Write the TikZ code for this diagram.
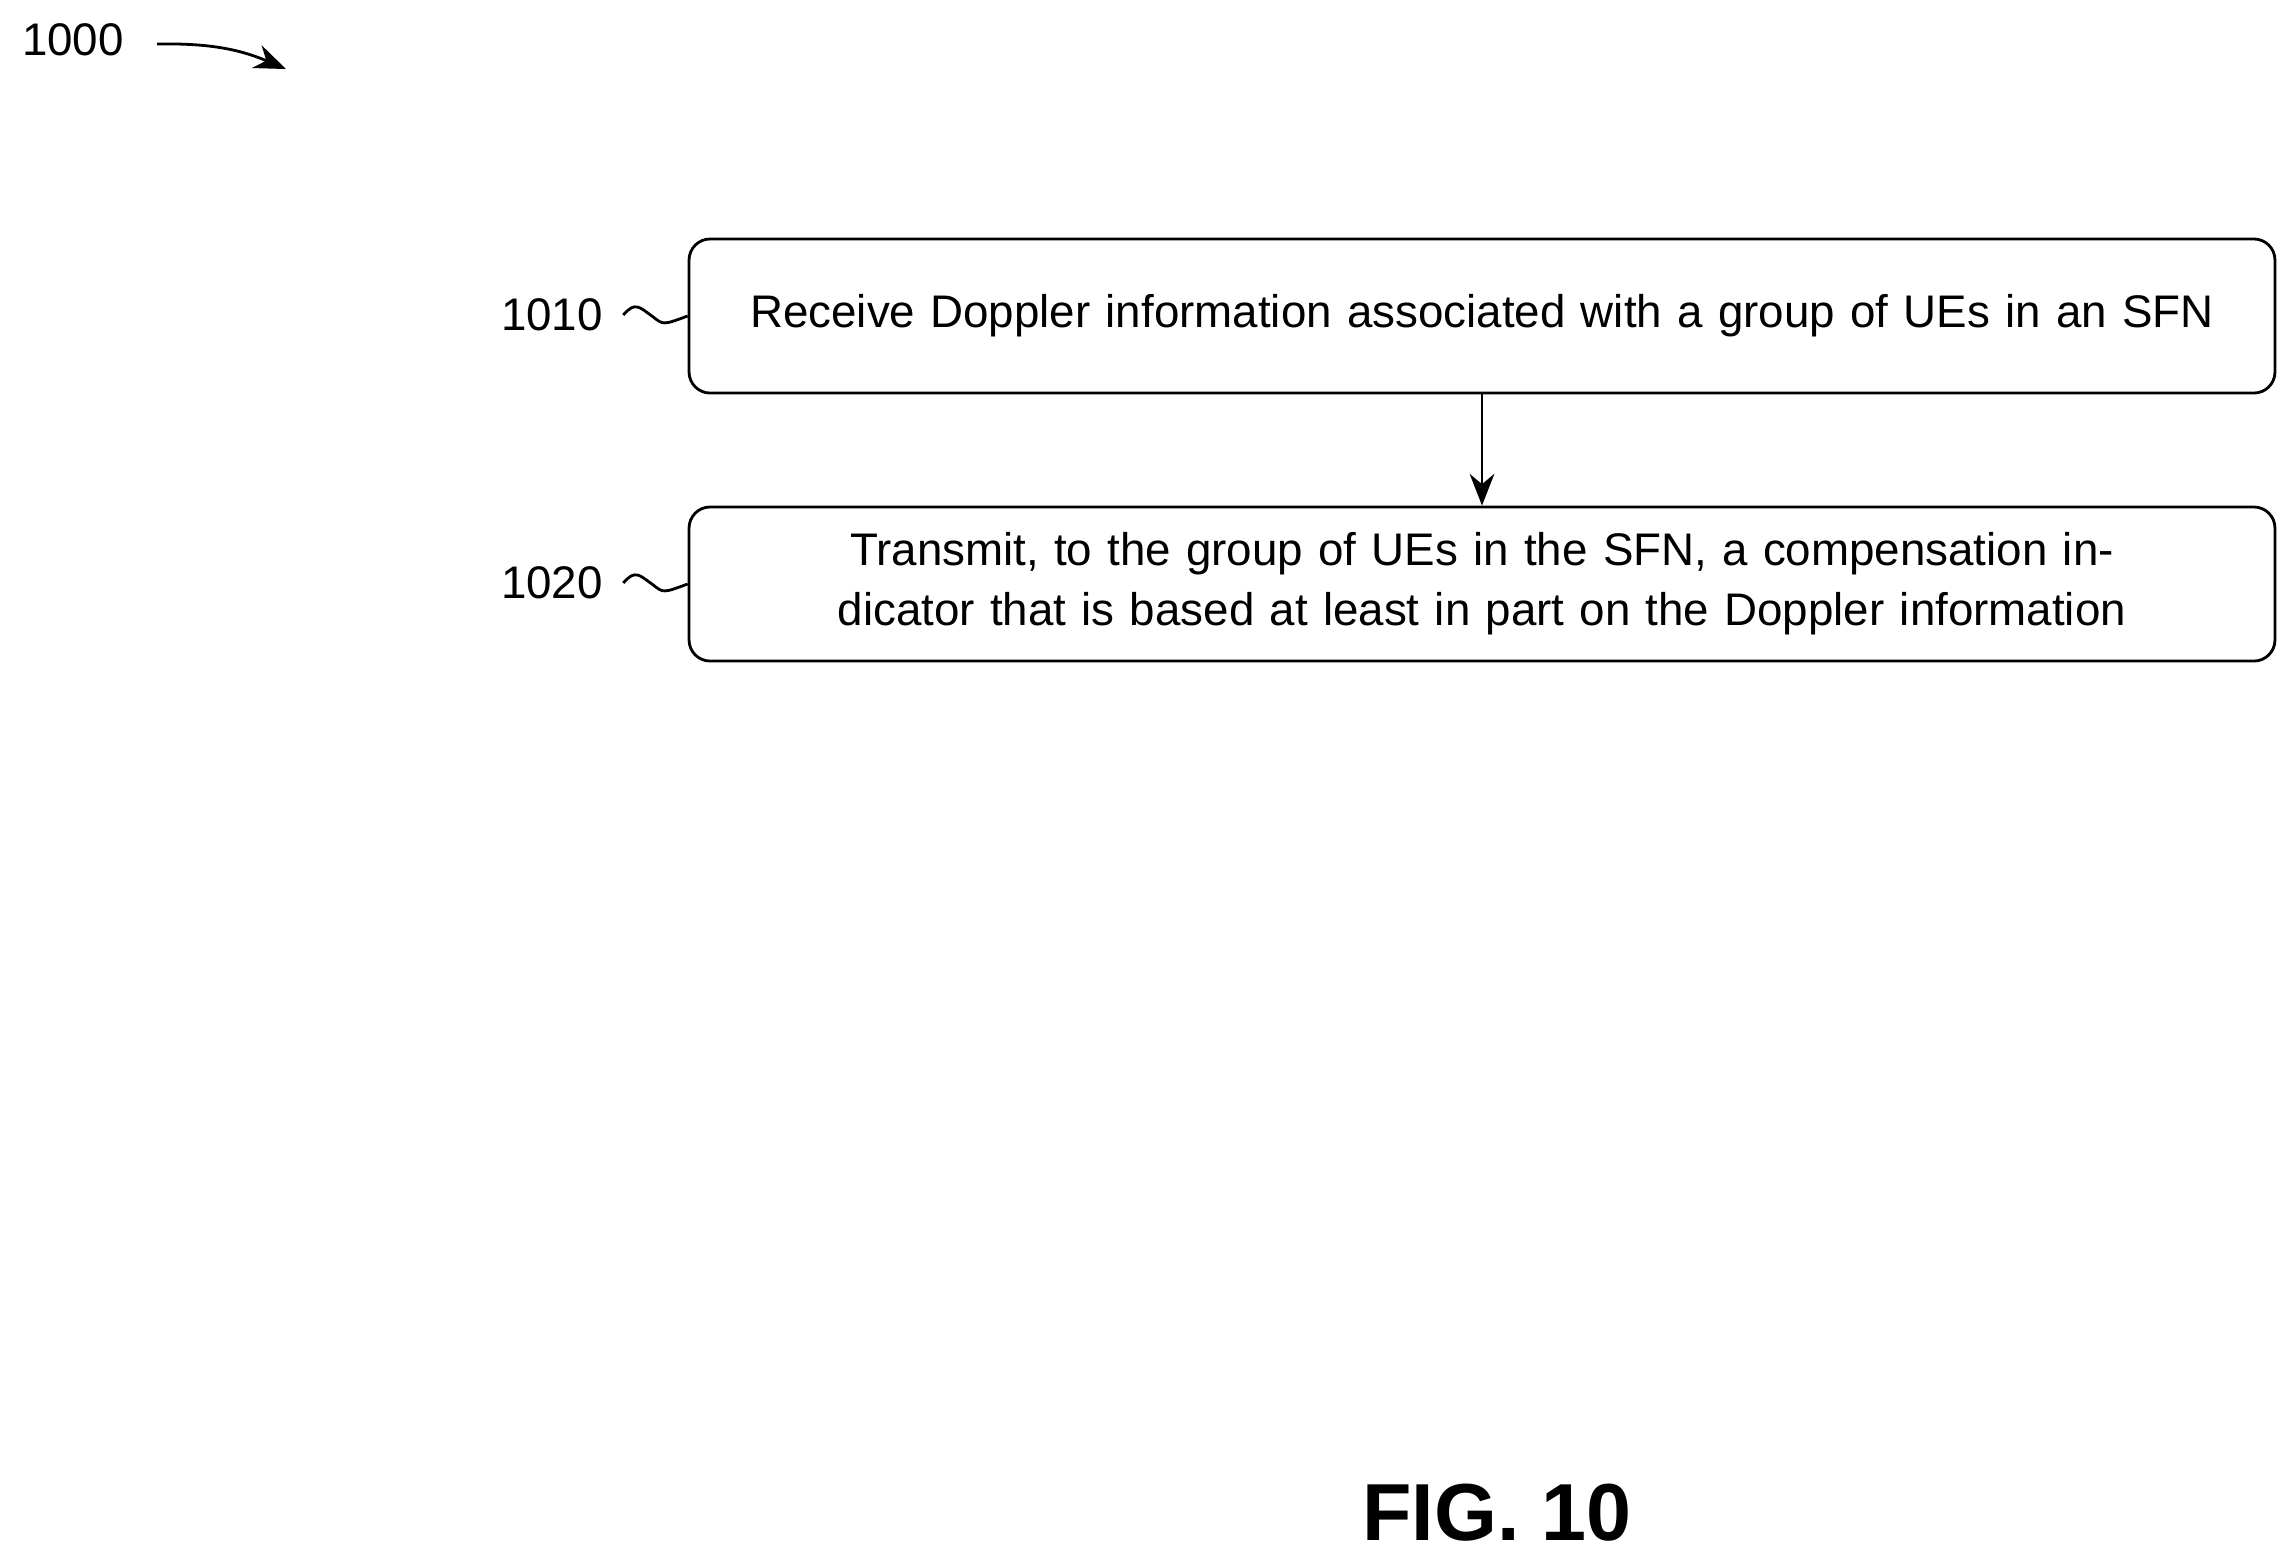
\documentclass[tikz,border=0pt]{standalone}
\usepackage{fontspec}
\setmainfont{Liberation Sans}
\usetikzlibrary{positioning,arrows.meta}

\tikzset{
  flowbox/.style={draw, thick, rounded corners=6pt, minimum width=15.85cm, minimum height=1.54cm, align=center, text width=15.4cm, font=\fontsize{13}{17}\selectfont},
  ref/.style={font=\fontsize{13}{17}\selectfont},
}

\begin{document}
\begin{tikzpicture}[x=0.01cm,y=-0.01cm]
        \useasboundingbox (0,0) rectangle (2285,1553);

        \node[ref] (fig) at (73,40) {1000};
        \coordinate (figa) at (157,44);
        \coordinate (figb) at (286,69);
        \draw[thick, -{Stealth[length=9pt,width=7pt]}] (figa) to[bend left=12] (figb);

        \node[flowbox] (s1) at (1482,316) {Receive Doppler information associated with a group of UEs in an SFN};
        \node[flowbox] (s2) at (1482,584) {Transmit, to the group of UEs in the SFN, a compensation indicator that is based at least in part on the Doppler information};

        \node[ref] (l1) at (552,315) {1010};
        \node[ref] (l2) at (552,583) {1020};
        \draw[thick] (l1.east) ++(8,0) .. controls +(12,-14) and +(-14,-10) .. ++(30,2) .. controls +(10,8) .. (s1.west);
        \draw[thick] (l2.east) ++(8,0) .. controls +(12,-14) and +(-14,-10) .. ++(30,2) .. controls +(10,8) .. (s2.west);

        \draw[thick, -{Stealth[length=9pt,width=7pt]}] (s1) -- (s2);

        \node[font=\bfseries\fontsize{23}{27}\selectfont] (title) at (1497,1513) {FIG. 10};
\end{tikzpicture}
\end{document}
